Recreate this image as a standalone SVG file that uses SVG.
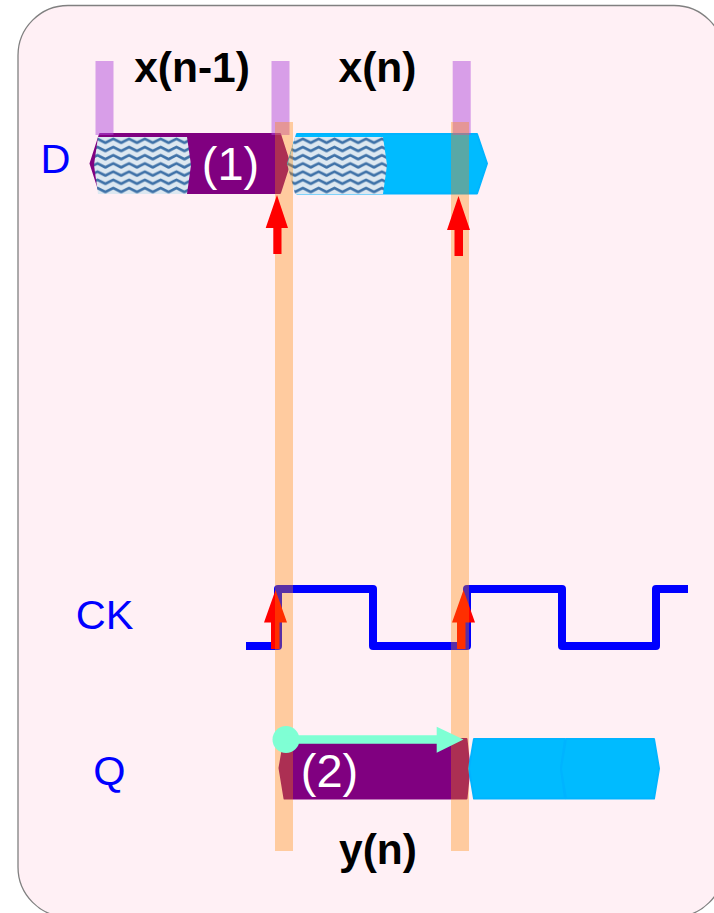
<svg xmlns="http://www.w3.org/2000/svg" width="714" height="913" viewBox="0 0 714 913">
  <style>
    text { font-family: "Liberation Sans", Arial, sans-serif; }
    .title { font-size: 42.5px; font-weight: bold; fill: #000; text-anchor: middle; }
    .sig { font-size: 41.5px; fill: #0000ff; text-anchor: middle; }
    .inner { font-size: 47px; fill: #fff; text-anchor: middle; }
    .purple { fill: #800080; stroke: #800080; stroke-width: 2; stroke-linejoin: round; }
    .blue { fill: #00bbff; stroke: #00b4ff; stroke-width: 2; stroke-linejoin: round; }
    .hatch { fill: url(#wave); }
    .violet { fill: #b14cdb; opacity: .5; }
    .orange { fill: #ff8800; opacity: .35; }
    .red { fill: #ff0000; }
    .clock { fill: none; stroke: #0000ff; stroke-width: 8; stroke-linejoin: round; }
    .aqua { fill: #7fffd4; }
  </style>
  <defs>
    <pattern id="wave" patternUnits="userSpaceOnUse" x="94" y="137" width="15.8" height="8.2">
      <rect width="15.8" height="8.2" fill="#dde8f1"/>
      <path d="M-4.400 5.800L3.500 1.800L11.400 5.800L19.300 1.800" fill="none" stroke="#3f72a8" stroke-width="2.700" stroke-linejoin="round"/>
    </pattern>
  </defs>

  <rect id="background" x="18" y="5.500" width="706" height="911.500" rx="50" ry="50" fill="#fff0f5" stroke="#808080" stroke-width="1.300"/>

  <g id="signal-d-1">
    <polygon class="purple" points="100,134 280,134 289.500,163.500 280,193 100,193 90.500,163.500"/>
    <polygon class="hatch" points="98,137 187,137 191,165 187,194 98,194 94,165"/>
    <text class="inner" x="230.500" y="180">(1)</text>
  </g>
  <g id="signal-d-2">
    <polygon class="blue" points="297,134 477,134 487,163.500 477,193.500 297,193.500 288,163.500"/>
    <polygon class="hatch" points="295,137 383,137 387,165 383,194 295,194 287.500,165"/>
  </g>
  <g id="signal-q-1">
    <polygon class="purple" points="284.500,739 466.500,739 469.500,768 466.500,798.500 284.500,798.500 279.500,768"/>
    <text class="inner" x="329.500" y="787">(2)</text>
  </g>
  <g id="signal-q-2">
    <polygon class="blue" points="474,739 565,739 561,768.500 565,798.500 474,798.500 469,768.500"/>
    <polygon class="blue" points="566,739 654,739 659,768.500 654,798.500 566,798.500 561,768.500"/>
  </g>
  <g id="signal-ck">
    <path class="clock" d="M246 646H278V589H373V646H467V589H562V646H656V589H688"/>
  </g>

  <g id="ck-edges">
    <polygon class="red" points="275.500,590 287,622.500 279.500,622.500 279.500,649 271,649 271,622.500 264,622.500"/>
    <polygon class="red" points="463.500,590 475,622.500 465.500,622.500 465.500,649 457,649 457,622.500 452,622.500"/>
  </g>

  <g id="markers">
    <rect class="violet" x="95.500" y="61" width="18" height="74"/>
    <rect class="violet" x="271.500" y="61" width="18" height="74"/>
    <rect class="violet" x="452.700" y="61" width="18" height="74"/>
    <rect class="orange" x="275" y="122" width="18" height="729"/>
    <rect class="orange" x="451" y="122" width="18" height="729"/>
  </g>

  <g id="connectors">
    <polygon class="red" points="277,195 288,228 281.500,228 281.500,254 273.300,254 273.300,228 265.700,228"/>
    <polygon class="red" points="458.500,196 470,230 463,230 463,256 454.500,256 454.500,230 447,230"/>
    <circle class="aqua" cx="286" cy="739.500" r="13.500"/>
    <polygon class="aqua" points="286,735.200 436.700,735.200 436.700,726.700 463.500,739.500 436.700,752.700 436.700,743.800 286,743.800"/>
  </g>

  <g id="labels">
    <text class="title" x="192" y="82">x(n-1)</text>
    <text class="title" x="377.500" y="82">x(n)</text>
    <text class="title" x="378" y="864">y(n)</text>
    <text class="sig" x="55.500" y="173">D</text>
    <text class="sig" x="104.500" y="629">CK</text>
    <text class="sig" x="109.500" y="785">Q</text>
  </g>
</svg>
